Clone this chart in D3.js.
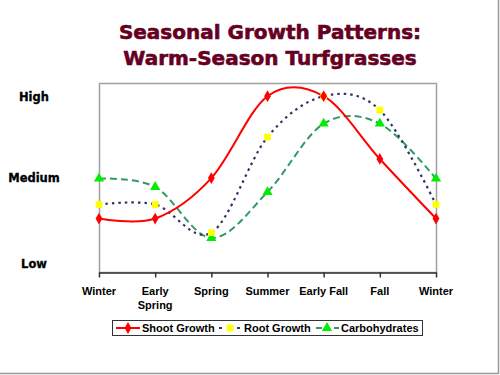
<!DOCTYPE html>
<html>
<head>
<meta charset="utf-8">
<script src="https://cdn.jsdelivr.net/npm/d3@7"></script>
<style>
  body { margin: 0; background: #fff; }
  svg { display: block; }
</style>
</head>
<body>
<div id="container"></div>
<script>
/* DATA */
const seasons = ["Winter", "Early Spring", "Spring", "Summer", "Early Fall", "Fall", "Winter "];
const shootGrowth = [2.83, 2.83, 4.97, 9.3, 9.3, 5.98, 2.83];
const rootGrowth = [3.57, 3.57, 2.08, 7.14, 9.3, 8.57, 3.57];
const carbohydrates = [4.94, 4.5, 1.8, 4.23, 7.85, 7.85, 4.94];
const levelValues = [0.45, 5.0, 9.25];
const levelLabels = ["Low", "Medium", "High"];

/* CONSTANTS AND GLOBALS */
const width = 500, height = 375;
const margin = { top: 83, right: 64, bottom: 103, left: 99 };

const svg = d3.select('#container')
  .append('svg')
  .attr('width', width)
  .attr('height', height)
  .style('background-color', '#fff');

const xScale = d3.scalePoint()
  .domain(seasons)
  .range([margin.left, width - margin.right]);

const yScale = d3.scaleLinear()
  .domain([0, 10])
  .range([height - margin.bottom, margin.top]);

// Title
const title = svg.append('text')
  .attr('x', 270)
  .attr('text-anchor', 'middle')
  .attr('font-family', 'DejaVu Sans, Verdana, sans-serif')
  .attr('font-weight', 'bold')
  .attr('font-size', '20px')
  .attr('fill', '#660022')
  .attr('stroke', '#660022')
  .attr('stroke-width', 0.6);
title.append('tspan').attr('x', 270).attr('y', 39).text('Seasonal Growth Patterns:');
title.append('tspan').attr('x', 270).attr('y', 65).text('Warm-Season Turfgrasses');

// Plot area frame (gray)
svg.append('rect')
  .attr('x', margin.left + 0.5)
  .attr('y', margin.top + 0.5)
  .attr('width', width - margin.right - margin.left)
  .attr('height', height - margin.bottom - margin.top)
  .attr('fill', 'none')
  .attr('stroke', '#a0a0a0')
  .attr('stroke-width', 1.5);

// x axis
const xAxis = svg.append('g')
  .attr('transform', `translate(0, ${height - margin.bottom + 0.5})`)
  .call(d3.axisBottom(xScale).tickSize(5).tickSizeOuter(0).tickFormat(''));
xAxis.select('.domain').attr('stroke', '#333').attr('stroke-width', 1.5);
xAxis.selectAll('.tick line').attr('stroke', '#333').attr('stroke-width', 1.5);

// x labels (split multi-word labels)
const xLabels = svg.append('g')
  .attr('font-family', 'Liberation Sans, Arial, sans-serif')
  .attr('font-weight', 'bold')
  .attr('font-size', '11px')
  .attr('text-anchor', 'middle')
  .attr('fill', '#000');
seasons.forEach(s => {
  const t = xLabels.append('text').attr('y', 295);
  const lines = s.trim() === 'Early Spring' ? ['Early', 'Spring'] : [s.trim()];
  lines.forEach((l, i) => {
    t.append('tspan').attr('x', xScale(s)).attr('dy', i === 0 ? 0 : 14).text(l);
  });
});

// y level labels
svg.append('g')
  .selectAll('text')
  .data(levelValues)
  .join('text')
  .attr('x', 34)
  .attr('y', d => yScale(d))
  .attr('dy', '0.35em')
  .attr('text-anchor', 'middle')
  .attr('font-family', 'DejaVu Sans, Verdana, sans-serif')
  .attr('font-weight', 'bold')
  .attr('font-size', '11.5px')
  .attr('stroke', '#000')
  .attr('stroke-width', 0.3)
  .text((d, i) => levelLabels[i]);

// Series
const series = [
  { name: 'Shoot Growth', values: shootGrowth, color: '#ff0000', dash: null, width: 2, marker: d3.symbolDiamond, markerColor: '#ff0000', size: 40 },
  { name: 'Root Growth', values: rootGrowth, color: '#333366', dash: '2.5,4', width: 2.2, marker: d3.symbolSquare, markerColor: '#ffff00', size: 45 },
  { name: 'Carbohydrates', values: carbohydrates, color: '#339966', dash: '7,4', width: 2, marker: d3.symbolTriangle, markerColor: '#00ee00', size: 45 }
];

const line = d3.line()
  .x((d, i) => xScale(seasons[i]))
  .y(d => yScale(d))
  .curve(d3.curveCardinal.tension(0));

const chart = svg.append('g');
series.slice().reverse().forEach(s => {
  chart.append('path')
    .datum(s.values)
    .attr('d', line)
    .attr('fill', 'none')
    .attr('stroke', s.color)
    .attr('stroke-width', s.width)
    .attr('stroke-dasharray', s.dash);
});
series.slice().reverse().forEach(s => {
  chart.selectAll(null)
    .data(s.values)
    .join('path')
    .attr('transform', (d, i) => `translate(${xScale(seasons[i])}, ${yScale(d)})`)
    .attr('d', d3.symbol().type(s.marker).size(s.size))
    .attr('fill', s.markerColor);
});

// Legend
const legend = svg.append('g');
legend.append('rect')
  .attr('x', 112.5)
  .attr('y', 320.5)
  .attr('width', 310)
  .attr('height', 15)
  .attr('fill', '#fff')
  .attr('stroke', '#333')
  .attr('stroke-width', 1);
const legendX = [116, 218, 315];
series.forEach((s, i) => {
  const x0 = legendX[i];
  legend.append('line')
    .attr('x1', x0).attr('x2', x0 + 24)
    .attr('y1', 328).attr('y2', 328)
    .attr('stroke', s.color)
    .attr('stroke-width', s.width)
    .attr('stroke-dasharray', s.dash ? (i === 1 ? '3,15' : '6,12') : null)
    .attr('stroke-dashoffset', s.dash ? -1 : null);
  legend.append('path')
    .attr('transform', `translate(${x0 + 12}, 328)`)
    .attr('d', d3.symbol().type(s.marker).size(s.size))
    .attr('fill', s.markerColor);
  legend.append('text')
    .attr('x', x0 + 26)
    .attr('y', 332)
    .attr('font-family', 'Liberation Sans, Arial, sans-serif')
    .attr('font-weight', 'bold')
    .attr('font-size', '11px')
    .text(s.name);
});

// Outer border shadow (right and bottom)
svg.append('path')
  .attr('d', `M${width - 1.5},0V${height - 1.5}H0`)
  .attr('fill', 'none')
  .attr('stroke', '#999')
  .attr('stroke-width', 1.5);
</script>
</body>
</html>
